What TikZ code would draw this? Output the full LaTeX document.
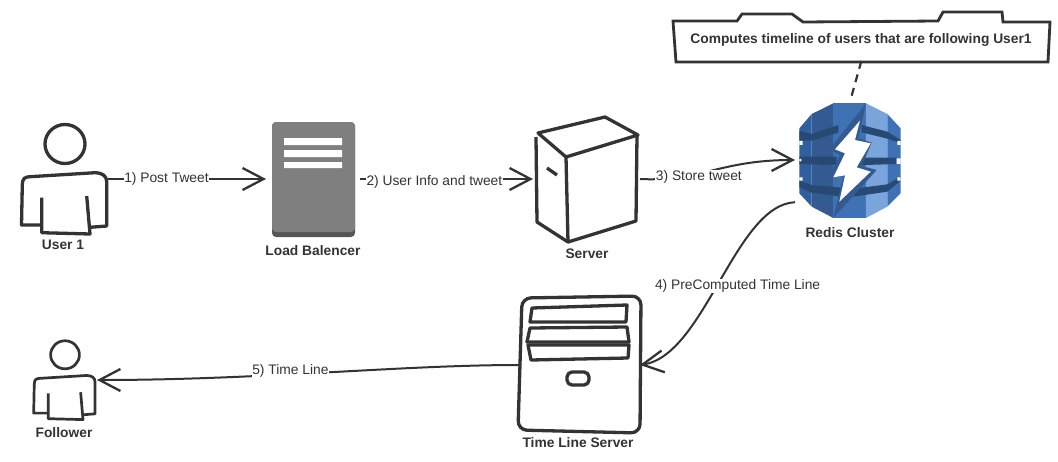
\documentclass[tikz,border=0pt]{standalone}
\usepackage{fontspec}
\setmainfont{Liberation Sans}
\usepackage{xcolor}
\usepackage{tikz}
\usetikzlibrary{arrows.meta}
\definecolor{inkgray}{HTML}{333333}
\definecolor{lbgray}{HTML}{7F7F7F}
\definecolor{lbdark}{HTML}{565656}
\definecolor{redisA}{HTML}{2F5F9E}
\definecolor{redisB}{HTML}{335A91}
\definecolor{redisC}{HTML}{3E72B5}
\definecolor{redisD}{HTML}{7AA5DC}
\definecolor{redisE}{HTML}{264A73}
\tikzset{
	icon/.style 2 args={shape=rectangle,inner sep=0pt,outer sep=0pt,minimum width=#1,minimum height=#2},
	iconname/.style={font=\fontsize{13.8}{15}\selectfont\bfseries,text=inkgray,inner sep=0pt},
	flow/.style={draw=inkgray,line width=2pt,-{Straight Barb[length=21pt,width=22pt,line width=2.3pt]}},
	flowname/.style={font=\fontsize{13.8}{15}\selectfont,text=inkgray,fill=white,inner sep=.5pt},
	sketch/.style={draw=inkgray,line width=3.3pt,line join=round},
	person/.pic={
		\draw[sketch,line width=\pgfkeysvalueof{/tikz/personwidth}] (0,-35) circle[x radius=20,y radius=19.5];
		\draw[sketch,line width=\pgfkeysvalueof{/tikz/personwidth}] (-23.3,46) -- (-43.5,46) -- (-42.7,6) .. controls (-42.5,-1) and (-40,-2) .. (-35,-2.3) -- (30,-6.3) .. controls (38,-6) and (41.5,-3) .. (41.7,2.7) -- (41.7,47) -- (25,48.3);
		\draw[sketch,line width=\pgfkeysvalueof{/tikz/personwidth}] (21.7,17) -- (25,55) -- (-23.3,53.7) -- (-23.3,18.7);
	},
	personwidth/.initial=3.3pt
}

\begin{document}
\begin{tikzpicture}[x=1pt,y=-1pt]
	\useasboundingbox (0,0) rectangle (1058,461);
	\node[icon={86pt}{110pt}] (user) at (65,179) {};
	\node[icon={94pt}{116pt}] (lb) at (313,179) {};
	\node[icon={107pt}{126pt}] (server) at (586.5,179) {};
	\node[icon={112pt}{124pt}] (redis) at (851,160) {};
	\node[icon={121pt}{138pt}] (tls) at (579.5,365) {};
	\node[icon={64pt}{80pt}] (follower) at (65,380) {};
	\node[icon={375pt}{42pt},font=\fontsize{13.8}{15}\selectfont\bfseries,text=inkgray] (note) at (861,40) {Computes timeline of users that are following User1};
	%
	\node[iconname] (userName) at (63,245) {User 1};
	\node[iconname] (lbName) at (313,251) {Load Balencer};
	\node[iconname] (serverName) at (587,254) {Server};
	\node[iconname] (redisName) at (850,233) {Redis Cluster};
	\node[iconname] (tlsName) at (578,443) {Time Line Server};
	\node[iconname] (followerName) at (64,433) {Follower};
	%
	% user and follower
	\pic at (user) {person};
	\pic[scale=.72,personwidth=2.7pt] at (follower) {person};
	%
	% load balancer
	\fill[lbdark,rounded corners=4pt] (272,122) rectangle (355,237);
	\fill[lbgray,rounded corners=4pt] (272,122) rectangle (355,232);
	\fill[lbgray] (272,200) rectangle (355,226);
	\fill[white] (284,138) rectangle (342,145) (284,150) rectangle (342,157) (284,162) rectangle (342,168);
	%
	% server
	\draw[sketch] (538,133) -- (605,117) -- (638,135) -- (566,157) -- cycle;
	\draw[sketch] (536,137) -- (537,222) -- (568,242) -- (636,221) -- (637,135);
	\draw[sketch] (566,157) -- (568,242);
	\draw[sketch] (547,168) -- (557,175);
	%
	% time line server
	\draw[sketch,rounded corners=9pt] (522,298) -- (641,296) -- (640,433) -- (518,430) -- cycle;
	\draw[sketch] (532,308) -- (627,305) -- (626,322) -- (530,322) -- cycle;
	\draw[sketch] (530,328) -- (627,327) -- (629,342) -- (527,342) -- cycle;
	\draw[sketch] (528,345) -- (629,345) -- (628,358) -- (531,360) -- cycle;
	\draw[sketch,rounded corners=5pt] (567,372) rectangle (589,385);
	%
	% redis
	\begin{scope}[shift={(780,90)},x=.3333pt,y=-.3333pt]
		\fill[redisA] (95,72) -- (58,115) -- (58,310) -- (95,350) -- cycle;
		\fill[redisB] (95,72) -- (160,40) -- (160,384) -- (95,350) -- cycle;
		\fill[redisC] (160,40) -- (258,40) -- (258,384) -- (160,384) -- cycle;
		\fill[redisD] (258,40) -- (322,72) -- (322,350) -- (258,384) -- cycle;
		\fill[redisC] (322,72) -- (362,115) -- (362,310) -- (322,350) -- cycle;
		%
		\fill[redisE] (58,122) -- (95,132) -- (175,105) -- (175,128) -- (95,152) -- (58,152) -- cycle;
		\fill[redisE] (245,105) -- (322,125) -- (362,150) -- (362,160) -- (322,146) -- (245,127) -- cycle;
		\fill[redisE] (58,200) -- (170,200) -- (170,225) -- (58,222) -- cycle;
		\fill[redisE] (235,203) -- (350,203) -- (350,222) -- (225,226) -- cycle;
		\fill[redisE] (58,272) -- (95,285) -- (185,293) -- (185,320) -- (95,308) -- (58,292) -- cycle;
		\fill[redisE] (230,295) -- (322,283) -- (362,260) -- (362,272) -- (322,305) -- (220,320) -- cycle;
		%
		\fill[white] (58,153) rectangle (68,165) (58,262) rectangle (68,272) (58,207) rectangle (64,214);
		\fill[white] (352,153) rectangle (362,165) (350,205) rectangle (362,222) (352,262) rectangle (362,272);
		%
		\fill[redisB] (258,40) -- (148,178) -- (180,195) -- (145,265) -- (190,258) -- (160,384) -- (290,240) -- (245,228) -- (275,158) -- (235,145) -- cycle;
		\fill[white] (240,92) -- (165,178) -- (195,190) -- (160,262) -- (195,256) -- (178,335) -- (272,245) -- (230,232) -- (272,160) -- (225,150) -- cycle;
	\end{scope}
	%
	\path[flow]
	(user) edge node[flowname,pos=.37]{1) Post Tweet} (lb)
	(lb) edge node[flowname,pos=.43,yshift=-3pt]{2) User Info and tweet} (server);
	\draw[flow] (server.east) .. controls (700,182) and (720,160) .. node[flowname,pos=.4,yshift=-3pt]{3) Store tweet} (redis.west);
	\draw[flow] (redis.217) .. controls (735,205) and (705,355) .. node[flowname,pos=.52,xshift=21pt]{4) PreComputed Time Line} (tls.east);
	\draw[flow] (tls.west) .. controls (400,365) and (260,380) .. node[flowname,pos=.58,yshift=3pt]{5) Time Line} (follower.east);
	\draw[draw=inkgray,line width=2.2pt,dash pattern=on 8pt off 6pt] (note.271) -- (redis.north);
	%
	\draw[sketch,line width=2.8pt,line join=miter] (673,21) -- (737,21) -- (742,14) -- (792,14) -- (803,22) -- (938,21) -- (943,12) -- (1002,12) -- (1003,22) -- (1050,22) -- (1048,62) -- (676,62) -- cycle;
\end{tikzpicture}
\end{document}
